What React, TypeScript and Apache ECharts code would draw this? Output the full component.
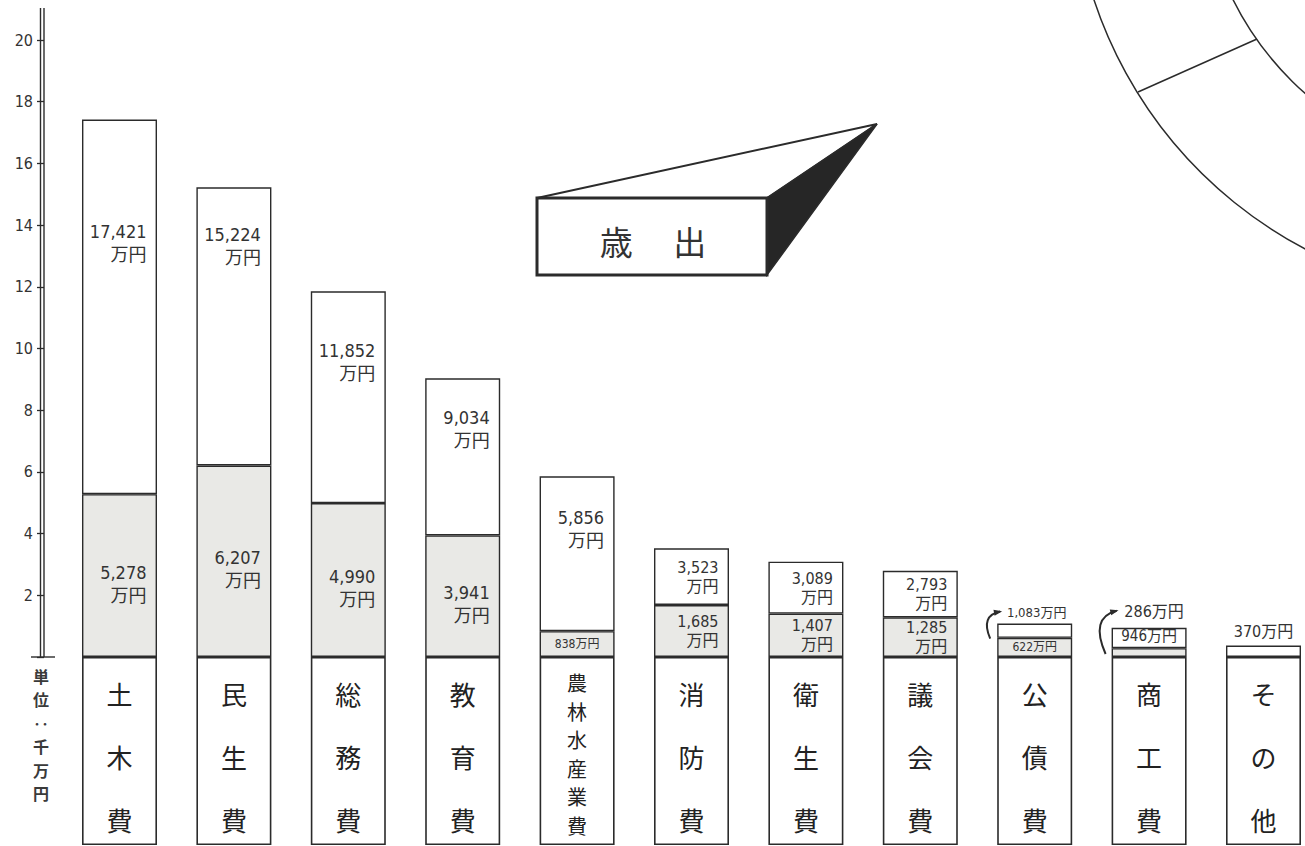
import React, { useEffect, useRef } from 'react';
import * as echarts from 'echarts';

// ---- data (values in 万円; axis unit is 千万円) ----
const categories = ['土木費', '民生費', '総務費', '教育費', '農林水産業費', '消防費', '衛生費', '議会費', '公債費', '商工費', 'その他'];
const totalMan = [17421, 15224, 11852, 9034, 5856, 3523, 3089, 2793, 1083, 946, 370];
const lowerMan = [5278, 6207, 4990, 3941, 838, 1685, 1407, 1285, 622, 286, 0];
const yAxisMax = 20;
const yAxisStep = 2;
const unitLabel = '単\n位\n‥\n千\n万\n円';
const titleText = '歳\u3000 出';

// ---- styles / layout ----
const NUM_FONT = '"DejaVu Sans Condensed", "Liberation Sans Narrow", "Noto Sans CJK JP", sans-serif';
const CJK_FONT = '"Noto Sans CJK JP", sans-serif';
const INK = '#2b2b2b';
const TEXT = '#333333';
const GRAY = '#e9e9e6';
const GRID_LEFT = 62.3;
const GRID_W = 1258.4;
const GRID_TOP = 40;
const GRID_H = 617;
const BOX_H = 188;
const BAR_W = 75;
const PX_PER_UNIT = GRID_H / yAxisMax;
const upperGap: Record<string, number> = { '土木費': 100, '民生費': 36, '総務費': 48, '教育費': 28, '農林水産業費': 30 };

const fmt = (n: number) => n.toLocaleString('en-US');
const toSen = (man: number) => man / 1000;

const baseLabel = { show: true, color: TEXT, fontFamily: NUM_FONT };

function upperLabel(i: number): any {
  const name = categories[i];
  const two = `${fmt(totalMan[i])}\n万円`;
  if (name === '公債費') return { ...baseLabel, position: 'top', distance: 5, fontSize: 13, offset: [2, 0], formatter: `${fmt(totalMan[i])}万円` };
  if (name === '商工費') return { ...baseLabel, position: 'inside', fontSize: 15, offset: [0, -2], formatter: `${fmt(totalMan[i])}万円` };
  if (lowerMan[i] === 0) return { ...baseLabel, position: 'top', distance: 6, fontSize: 16, formatter: `${fmt(totalMan[i])}万円` };
  if (name in upperGap) return { ...baseLabel, position: 'insideTop', distance: upperGap[name], align: 'right', offset: [27, 0], fontSize: 18, lineHeight: 23, formatter: two };
  return { ...baseLabel, position: 'inside', align: 'right', offset: [27, 0], fontSize: 16, lineHeight: 19, formatter: two };
}

function lowerLabel(i: number): any {
  const name = categories[i];
  const v = lowerMan[i];
  if (v === 0) return { show: false };
  if (name === '商工費') {
    return { ...baseLabel, position: 'top', distance: toSen(totalMan[i] - v) * PX_PER_UNIT + 8, fontSize: 16, offset: [5, 0], formatter: `${fmt(v)}万円` };
  }
  if (v < 1000) return { ...baseLabel, position: 'inside', fontSize: 12, formatter: `${fmt(v)}万円` };
  const big = totalMan[i] >= 5000;
  return { ...baseLabel, position: 'inside', align: 'right', offset: [27, big ? 8 : 0], fontSize: big ? 18 : 16, lineHeight: big ? 23 : 19, formatter: `${fmt(v)}\n万円` };
}

function arrow(s: number[], c: number[], e: number[]): any[] {
  const a = Math.atan2(e[1] - c[1], e[0] - c[0]);
  const L = 7, w = 0.45;
  return [
    { type: 'bezierCurve', shape: { x1: s[0], y1: s[1], cpx1: c[0], cpy1: c[1], x2: e[0], y2: e[1] }, style: { stroke: INK, lineWidth: 2, fill: 'none' } },
    {
      type: 'polygon',
      shape: { points: [[e[0] + 2 * Math.cos(a), e[1] + 2 * Math.sin(a)], [e[0] - L * Math.cos(a - w), e[1] - L * Math.sin(a - w)], [e[0] - L * Math.cos(a + w), e[1] - L * Math.sin(a + w)]] },
      style: { fill: INK },
    },
  ];
}

export default function App() {
  const ref = useRef<HTMLDivElement>(null);
  useEffect(() => {
    if (!ref.current) return;
    const chart = echarts.init(ref.current, null, { renderer: 'svg' });
    const option: any = {
      animation: false,
      backgroundColor: '#ffffff',
      grid: [
        { left: GRID_LEFT, top: GRID_TOP, width: GRID_W, height: GRID_H, outerBoundsMode: 'none', containLabel: false },
        { left: GRID_LEFT, top: GRID_TOP + GRID_H, width: GRID_W, height: BOX_H, outerBoundsMode: 'none', containLabel: false },
      ],
      xAxis: [
        { type: 'category', gridIndex: 0, data: categories, show: false },
        { type: 'category', gridIndex: 1, data: categories, show: false },
      ],
      yAxis: [
        {
          type: 'value', gridIndex: 0, min: 0, max: yAxisMax, interval: yAxisStep, offset: GRID_LEFT - 44,
          axisLine: { show: false },
          axisTick: { show: true, length: 7, inside: false, lineStyle: { color: INK, width: 1.3 } },
          axisLabel: { show: true, margin: 11, color: TEXT, fontSize: 16, fontFamily: NUM_FONT, formatter: (v: number) => (v === 0 ? '' : String(v)) },
          splitLine: { show: false },
        },
        { type: 'value', gridIndex: 1, min: 0, max: 1, show: false },
      ],
      series: [
        {
          name: 'lower', type: 'bar', stack: 'total', xAxisIndex: 0, yAxisIndex: 0, barWidth: BAR_W, silent: true,
          itemStyle: { color: GRAY, borderColor: INK, borderWidth: 1.4 },
          data: lowerMan.map((v, i) => ({ value: toSen(v), label: lowerLabel(i) })),
        },
        {
          name: 'upper', type: 'bar', stack: 'total', xAxisIndex: 0, yAxisIndex: 0, barWidth: BAR_W, silent: true,
          itemStyle: { color: '#ffffff', borderColor: INK, borderWidth: 1.4 },
          data: totalMan.map((t, i) => ({ value: toSen(t - lowerMan[i]), label: upperLabel(i) })),
        },
        {
          name: 'boxes', type: 'bar', xAxisIndex: 1, yAxisIndex: 1, barWidth: BAR_W, silent: true,
          itemStyle: { color: '#ffffff', borderColor: INK, borderWidth: 1.6 },
          label: {
            show: true, position: 'inside', color: '#222', fontFamily: CJK_FONT,
            formatter: (p: any) => String(p.name).split('').join('\n'),
          },
          data: categories.map((name) => ({
            value: 1,
            label: name.length > 4
              ? { fontSize: 20, lineHeight: 28.5, offset: [0, 3] }
              : { fontSize: 26, lineHeight: 63, offset: [0, 5] },
          })),
        },
      ],
    };
    chart.setOption(option);

    const px = (i: number, v: number) => chart.convertToPixel({ gridIndex: 0 }, [i, v]) as number[];
    const baseY = px(0, 0)[1];
    const ki = categories.indexOf('公債費');
    const si = categories.indexOf('商工費');
    const [kx, kTop] = px(ki, toSen(totalMan[ki]));
    const kLeft = kx - BAR_W / 2;
    const [sx, sTop] = px(si, toSen(totalMan[si]));
    const sLeft = sx - BAR_W / 2;

    const lineStyle = { stroke: INK, lineWidth: 1.4 };
    const graphic: any[] = [
      // double axis line
      { type: 'line', shape: { x1: 40.5, y1: 8, x2: 40.5, y2: baseY }, style: lineStyle },
      { type: 'line', shape: { x1: 44, y1: 8, x2: 44, y2: baseY }, style: lineStyle },
      { type: 'line', shape: { x1: 31, y1: baseY, x2: 55, y2: baseY }, style: lineStyle },
      {
        type: 'text', x: 41, y: baseY + 7,
        style: { text: unitLabel, fontSize: 16, lineHeight: 23.5, fontFamily: CJK_FONT, fontWeight: 'bold', fill: '#3a3a3a', align: 'center', verticalAlign: 'top' },
      },
      // title box
      { type: 'polygon', shape: { points: [[537, 198], [877, 124], [767, 198]] }, style: { fill: '#fff', stroke: INK, lineWidth: 2 } },
      { type: 'polygon', shape: { points: [[767, 198], [877, 124], [767, 275]] }, style: { fill: '#262626', stroke: INK, lineWidth: 1.5 } },
      { type: 'rect', shape: { x: 537, y: 198, width: 230, height: 77 }, style: { fill: '#fff', stroke: INK, lineWidth: 3 } },
      {
        type: 'text', x: 653, y: 241,
        style: { text: titleText, fontSize: 33, fontFamily: CJK_FONT, fill: '#333', align: 'center', verticalAlign: 'middle' },
      },
      // partial pie ring at top right
      { type: 'arc', shape: { cx: 1508, cy: -137, r: 436, startAngle: 1.5, endAngle: 3.0, clockwise: true }, style: { stroke: INK, lineWidth: 1.5, fill: 'none' } },
      { type: 'arc', shape: { cx: 1508, cy: -137, r: 307, startAngle: 1.5, endAngle: 3.2, clockwise: true }, style: { stroke: INK, lineWidth: 1.5, fill: 'none' } },
      { type: 'line', shape: { x1: 1138, y1: 92, x2: 1257, y2: 39 }, style: { stroke: INK, lineWidth: 1.5 } },
      // pointer arrows for small values
      ...arrow([kLeft - 7, kTop + 15], [kLeft - 17, kTop - 8], [kLeft + 3, kTop - 12]),
      ...arrow([sLeft - 6, baseY - 3], [sLeft - 22, sTop - 10], [sLeft + 5, sTop - 17]),
    ];
    chart.setOption({ graphic });
    return () => chart.dispose();
  }, []);
  return <div ref={ref} style={{ position: 'fixed', left: 0, top: 0, width: 1305, height: 846 }} />;
}
